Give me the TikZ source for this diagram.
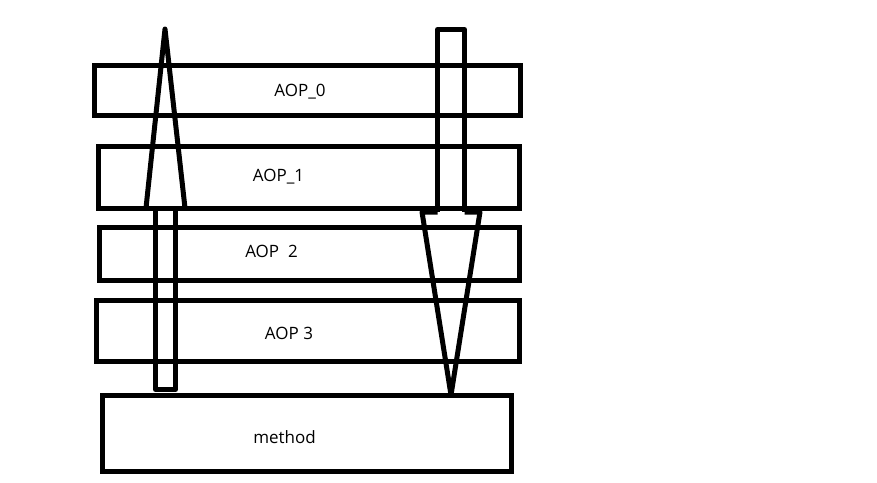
\documentclass[tikz,border=0pt]{standalone}
\usepackage{fontspec}
\setmainfont{Open Sans}
\begin{document}
\begin{tikzpicture}[x=1pt,y=-1pt,
  layer/.style={draw=black,line width=5pt},
  arrowshape/.style={draw=black,line width=5pt,line join=round},
  lbl/.style={anchor=base,inner sep=0pt,font=\fontsize{17}{20}\selectfont}]
\useasboundingbox (0,0) rectangle (877,482);
% layer boxes
\draw[layer] (94.5,65) rectangle (520.5,115.5);
\draw[layer] (98.5,146.5) rectangle (519.5,208);
\draw[layer] (99.5,227.5) rectangle (519.5,280.5);
\draw[layer] (96.5,300.5) rectangle (519.5,361.5);
\draw[layer] (102.5,395.5) rectangle (511.5,471.5);
% labels
\node[lbl] (aop0) at (300,96) {AOP\_0};
\node[lbl] (aop1) at (278.5,181) {AOP\_1};
\node[lbl] (aop2) at (271.5,257) {AOP\ \ 2};
\node[lbl] (aop3) at (289,339) {AOP 3};
\node[lbl] (meth) at (284.5,443) {method};
% upward arrow
\draw[arrowshape] (155.5,208) -- (155.5,389.5) -- (175.5,389.5) -- (175.5,208);
\draw[arrowshape] (146,208) -- (165,29) -- (185,208);
% downward arrow
\draw[arrowshape] (437.5,212) -- (437.5,29.5) -- (464.5,29.5) -- (464.5,212);
\draw[arrowshape] (437.5,212) -- (422,212) -- (451,395) -- (480,212) -- (464.5,212);
\end{tikzpicture}
\end{document}
